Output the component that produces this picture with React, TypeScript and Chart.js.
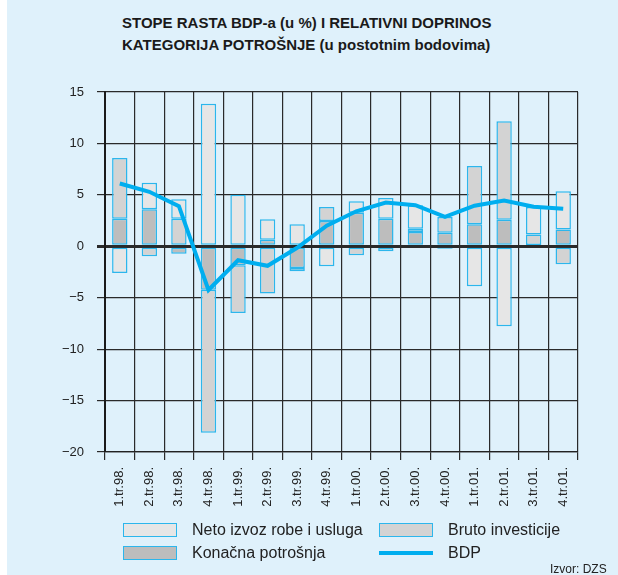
import React, { useEffect, useRef } from "react";
import { Chart, registerables } from "chart.js";

Chart.register(...registerables);

const categories = [
  "1.tr.98.", "2.tr.98.", "3.tr.98.", "4.tr.98.",
  "1.tr.99.", "2.tr.99.", "3.tr.99.", "4.tr.99.",
  "1.tr.00.", "2.tr.00.", "3.tr.00.", "4.tr.00.",
  "1.tr.01.", "2.tr.01.", "3.tr.01.", "4.tr.01.",
];
const konacnaPotrosnja = [2.68, 3.6, -0.72, -4.22, -1.85, 0.64, -2.1, 2.46, 3.27, 2.68, 1.39, 1.32, 2.14, 2.59, 0.12, 1.62];
const brutoInvesticije = [5.9, -0.97, 2.68, -13.9, -4.63, -4.6, -0.33, 1.36, -0.88, -0.49, 0.32, 1.53, 5.66, 9.56, 1.02, -1.75];
const netoIzvoz = [-2.59, 2.58, 1.89, 13.86, 5.01, 1.98, 2.14, -1.94, 1.1, 2.01, 2.27, -0.23, -3.89, -7.77, 2.69, 3.72];
const bdp = [6.1, 5.3, 3.9, -4.25, -1.36, -1.9, -0.15, 2.0, 3.4, 4.25, 4.0, 2.85, 3.95, 4.45, 3.85, 3.65];
const yTicks = [15, 10, 5, 0, -5, -10, -15, -20];

const BG = "#dff1fb";
const CYAN = "#00aeef";
const BORDER = "#2cb6ec";
const C_NETO = "#e6e6e6";
const C_BRUTO = "#d3d3d3";
const C_KP = "#bdbdbd";
const FONT = "'Liberation Sans', Arial, Helvetica, sans-serif";

export default function App() {
  const ref = useRef<HTMLCanvasElement | null>(null);

  useEffect(() => {
    document.body.style.margin = "0";
    const canvas = ref.current;
    if (!canvas) return;
    const barCommon = {
      stack: "c",
      order: 1,
      barPercentage: 0.52,
      categoryPercentage: 1,
      borderColor: BORDER,
      borderWidth: 1.5,
      borderSkipped: false as const,
    };
    const chart = new Chart(canvas, {
      type: "bar",
      data: {
        labels: categories,
        datasets: [
          { ...barCommon, label: "Konačna potrošnja", data: konacnaPotrosnja, backgroundColor: C_KP },
          { ...barCommon, label: "Bruto investicije", data: brutoInvesticije, backgroundColor: C_BRUTO },
          { ...barCommon, label: "Neto izvoz robe i usluga", data: netoIzvoz, backgroundColor: C_NETO },
          {
            type: "line" as const,
            label: "BDP",
            data: bdp,
            stack: "b",
            order: 0,
            borderColor: CYAN,
            backgroundColor: CYAN,
            borderWidth: 4,
            pointRadius: 0,
            tension: 0,
            fill: false,
          } as any,
        ],
      },
      options: {
        responsive: false,
        devicePixelRatio: 1,
        animation: false,
        layout: { padding: { left: 0, top: 92, right: 40, bottom: 63 } },
        plugins: {
          legend: { display: false },
          title: { display: false },
          tooltip: { enabled: false },
        },
        scales: {
          x: {
            stacked: true,
            offset: true,
            grid: {
              offset: true,
              color: "#2a2a2a",
              lineWidth: 1.2,
              tickLength: 8,
              drawTicks: true,
            },
            border: { display: true, color: "#222", width: 1.2 },
            ticks: {
              autoSkip: false,
              minRotation: 90,
              maxRotation: 90,
              padding: 7,
              color: "#222",
              font: { family: FONT, size: 13 },
            },
            afterFit: (s: any) => {
              s.height = 60;
            },
          },
          y: {
            stacked: true,
            min: Math.min(...yTicks),
            max: Math.max(...yTicks),
            grid: {
              color: "#2a2a2a",
              lineWidth: (c: any) => (c.tick && c.tick.value === 0 ? 3 : 1.2),
              tickLength: 8,
            },
            border: { display: true, color: "#1a1a1a", width: 2 },
            ticks: {
              stepSize: 5,
              padding: 13,
              color: "#222",
              font: { family: FONT, size: 13 },
              callback: (v: any) => String(v).replace("-", "\u2212"),
            },
            afterFit: (s: any) => {
              s.width = 105;
            },
          },
        },
      },
    });
    return () => chart.destroy();
  }, []);

  const legendText: React.CSSProperties = {
    position: "absolute",
    fontFamily: FONT,
    fontSize: 16,
    color: "#222",
    whiteSpace: "nowrap",
    lineHeight: "16px",
  };
  const box = (left: number, top: number, color: string): React.CSSProperties => ({
    position: "absolute",
    left,
    top,
    width: 52,
    height: 12,
    background: color,
    border: `1.5px solid ${BORDER}`,
  });

  return (
    <div style={{ position: "relative", width: 618, height: 575, background: "#fff", overflow: "hidden" }}>
      <div style={{ position: "absolute", left: 7, top: 0, width: 611, height: 575, background: BG }} />
      <div
        style={{
          position: "absolute",
          left: 122,
          top: 12,
          fontFamily: "'Liberation Sans Narrow', 'Arial Narrow', " + FONT,
          fontWeight: "bold",
          fontSize: 15,
          lineHeight: "22px",
          color: "#1a1a1a",
          whiteSpace: "nowrap",
        }}
      >
        <div>STOPE RASTA BDP-a (u %) I RELATIVNI DOPRINOS</div>
        <div>KATEGORIJA POTROŠNJE (u postotnim bodovima)</div>
      </div>
      <canvas ref={ref} width={618} height={575} style={{ position: "absolute", left: 0, top: 0 }} />
      <div style={box(123, 523, C_NETO)} />
      <div style={{ ...legendText, left: 192, top: 522 }}>Neto izvoz robe i usluga</div>
      <div style={box(379, 523, C_BRUTO)} />
      <div style={{ ...legendText, left: 448, top: 522 }}>Bruto investicije</div>
      <div style={box(123, 546, C_KP)} />
      <div style={{ ...legendText, left: 192, top: 545 }}>Konačna potrošnja</div>
      <div style={{ position: "absolute", left: 379, top: 551, width: 54, height: 4, background: CYAN }} />
      <div style={{ ...legendText, left: 448, top: 545 }}>BDP</div>
      <div style={{ ...legendText, fontSize: 12, left: 550, top: 561 }}>Izvor: DZS</div>
    </div>
  );
}
